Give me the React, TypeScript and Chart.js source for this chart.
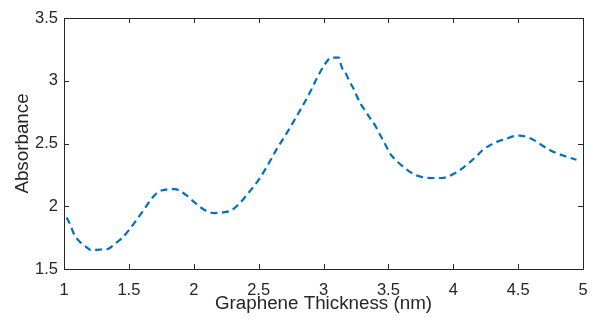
import React, { useEffect, useRef } from "react";
import { Chart, registerables } from "chart.js";

Chart.register(...registerables);

// Graphene thickness (nm)
const thickness = [
  1.02, 1.05, 1.08, 1.12, 1.165, 1.21, 1.275, 1.34, 1.39, 1.44, 1.5, 1.6, 1.7, 1.75, 1.85,
  1.94, 1.99, 2.06, 2.105, 2.16, 2.225, 2.29, 2.34, 2.39, 2.44, 2.5, 2.58, 2.637, 2.709,
  2.77, 2.837, 2.899, 2.95, 3.017, 3.06, 3.12, 3.138, 3.177, 3.2, 3.235, 3.26, 3.29, 3.325,
  3.36, 3.4, 3.43, 3.464, 3.49, 3.52, 3.56, 3.61, 3.66, 3.716, 3.772, 3.84, 3.91, 3.973,
  4.024, 4.08, 4.127, 4.178, 4.229, 4.276, 4.345, 4.404, 4.46, 4.51, 4.576, 4.64, 4.69,
  4.75, 4.807, 4.867, 4.93, 4.95,
];

// Absorbance values
const absorbance = [
  1.91, 1.85, 1.77, 1.72, 1.68, 1.65, 1.655, 1.66, 1.7, 1.74, 1.81, 1.95, 2.09, 2.125, 2.137,
  2.09, 2.045, 1.986, 1.959, 1.946, 1.951, 1.967, 2.01, 2.066, 2.13, 2.21, 2.345, 2.451, 2.57,
  2.676, 2.796, 2.915, 3.022, 3.141, 3.185, 3.185, 3.114, 3.048, 2.995, 2.93, 2.87, 2.81,
  2.756, 2.7, 2.64, 2.58, 2.517, 2.464, 2.41, 2.365, 2.318, 2.278, 2.246, 2.23, 2.225, 2.225,
  2.243, 2.27, 2.31, 2.35, 2.397, 2.45, 2.482, 2.517, 2.536, 2.557, 2.562, 2.549, 2.517,
  2.482, 2.445, 2.419, 2.397, 2.376, 2.37,
];

const xTicks = [1, 1.5, 2, 2.5, 3, 3.5, 4, 4.5, 5];
const yTicks = [1.5, 2, 2.5, 3, 3.5];

const AXIS_COLOR = "#262626";
const FONT = "'Liberation Sans', Arial, Helvetica, sans-serif";

const boxPlugin = {
  id: "matlabBox",
  afterDraw(chart: any) {
    const { ctx, chartArea } = chart;
    const { left, right, top, bottom } = chartArea;
    const xs = chart.scales.x;
    const ys = chart.scales.y;
    ctx.save();
    ctx.strokeStyle = AXIS_COLOR;
    ctx.lineWidth = 1;
    ctx.beginPath();
    ctx.rect(Math.round(left) + 0.5, Math.round(top) + 0.5, Math.round(right - left), Math.round(bottom - top));
    ctx.stroke();
    const tl = 5;
    ctx.beginPath();
    xTicks.forEach((v) => {
      const px = Math.round(xs.getPixelForValue(v)) + 0.5;
      ctx.moveTo(px, bottom);
      ctx.lineTo(px, bottom - tl);
      ctx.moveTo(px, top);
      ctx.lineTo(px, top + tl);
    });
    yTicks.forEach((v) => {
      const py = Math.round(ys.getPixelForValue(v)) + 0.5;
      ctx.moveTo(left, py);
      ctx.lineTo(left + tl, py);
      ctx.moveTo(right, py);
      ctx.lineTo(right - tl, py);
    });
    ctx.stroke();
    ctx.restore();
  },
};

export default function App() {
  const canvasRef = useRef<HTMLCanvasElement | null>(null);

  useEffect(() => {
    if (!canvasRef.current) return;
    const data = thickness.map((x, i) => ({ x, y: absorbance[i] }));
    const chart = new Chart(canvasRef.current, {
      type: "line",
      data: {
        datasets: [
          {
            data,
            borderColor: "#0072BD",
            borderWidth: 2.2,
            borderDash: [7, 4.5],
            pointRadius: 0,
            fill: false,
            cubicInterpolationMode: "monotone",
          },
        ],
      },
      options: {
        animation: false,
        responsive: true,
        maintainAspectRatio: false,
        layout: { padding: { top: 18, right: 10, left: 0, bottom: 0 } },
        plugins: { legend: { display: false }, tooltip: { enabled: false } },
        scales: {
          x: {
            type: "linear",
            min: 1,
            max: 5,
            afterBuildTicks: (scale: any) => {
              scale.ticks = xTicks.map((v) => ({ value: v }));
            },
            afterFit: (scale: any) => {
              scale.height = 51;
              scale.paddingRight = 0;
              scale.paddingLeft = 0;
            },
            grid: { display: false, drawTicks: false },
            border: { display: false },
            ticks: {
              padding: 12,
              color: AXIS_COLOR,
              font: { family: FONT, size: 16.5 },
              maxRotation: 0,
              autoSkip: false,
              callback: (v: any) => String(v),
            },
            title: {
              display: true,
              text: "Graphene Thickness (nm)",
              color: AXIS_COLOR,
              font: { family: FONT, size: 18.8 },
              padding: { top: 0, bottom: 5 },
            },
          },
          y: {
            type: "linear",
            min: 1.5,
            max: 3.5,
            afterBuildTicks: (scale: any) => {
              scale.ticks = yTicks.map((v) => ({ value: v }));
            },
            afterFit: (scale: any) => {
              scale.width = 64;
              scale.paddingTop = 0;
              scale.paddingBottom = 0;
            },
            grid: { display: false, drawTicks: false },
            border: { display: false },
            ticks: {
              padding: 6,
              color: AXIS_COLOR,
              font: { family: FONT, size: 16.5 },
              autoSkip: false,
              callback: (v: any) => String(v),
            },
            title: {
              display: true,
              text: "Absorbance",
              color: AXIS_COLOR,
              font: { family: FONT, size: 18.8 },
              padding: { top: 11.5, bottom: 0 },
            },
          },
        },
      },
      plugins: [boxPlugin],
    });
    return () => chart.destroy();
  }, []);

  return (
    <div style={{ position: "absolute", left: 0, top: 0, width: 593, height: 320, background: "#fff" }}>
      <canvas ref={canvasRef} />
    </div>
  );
}
